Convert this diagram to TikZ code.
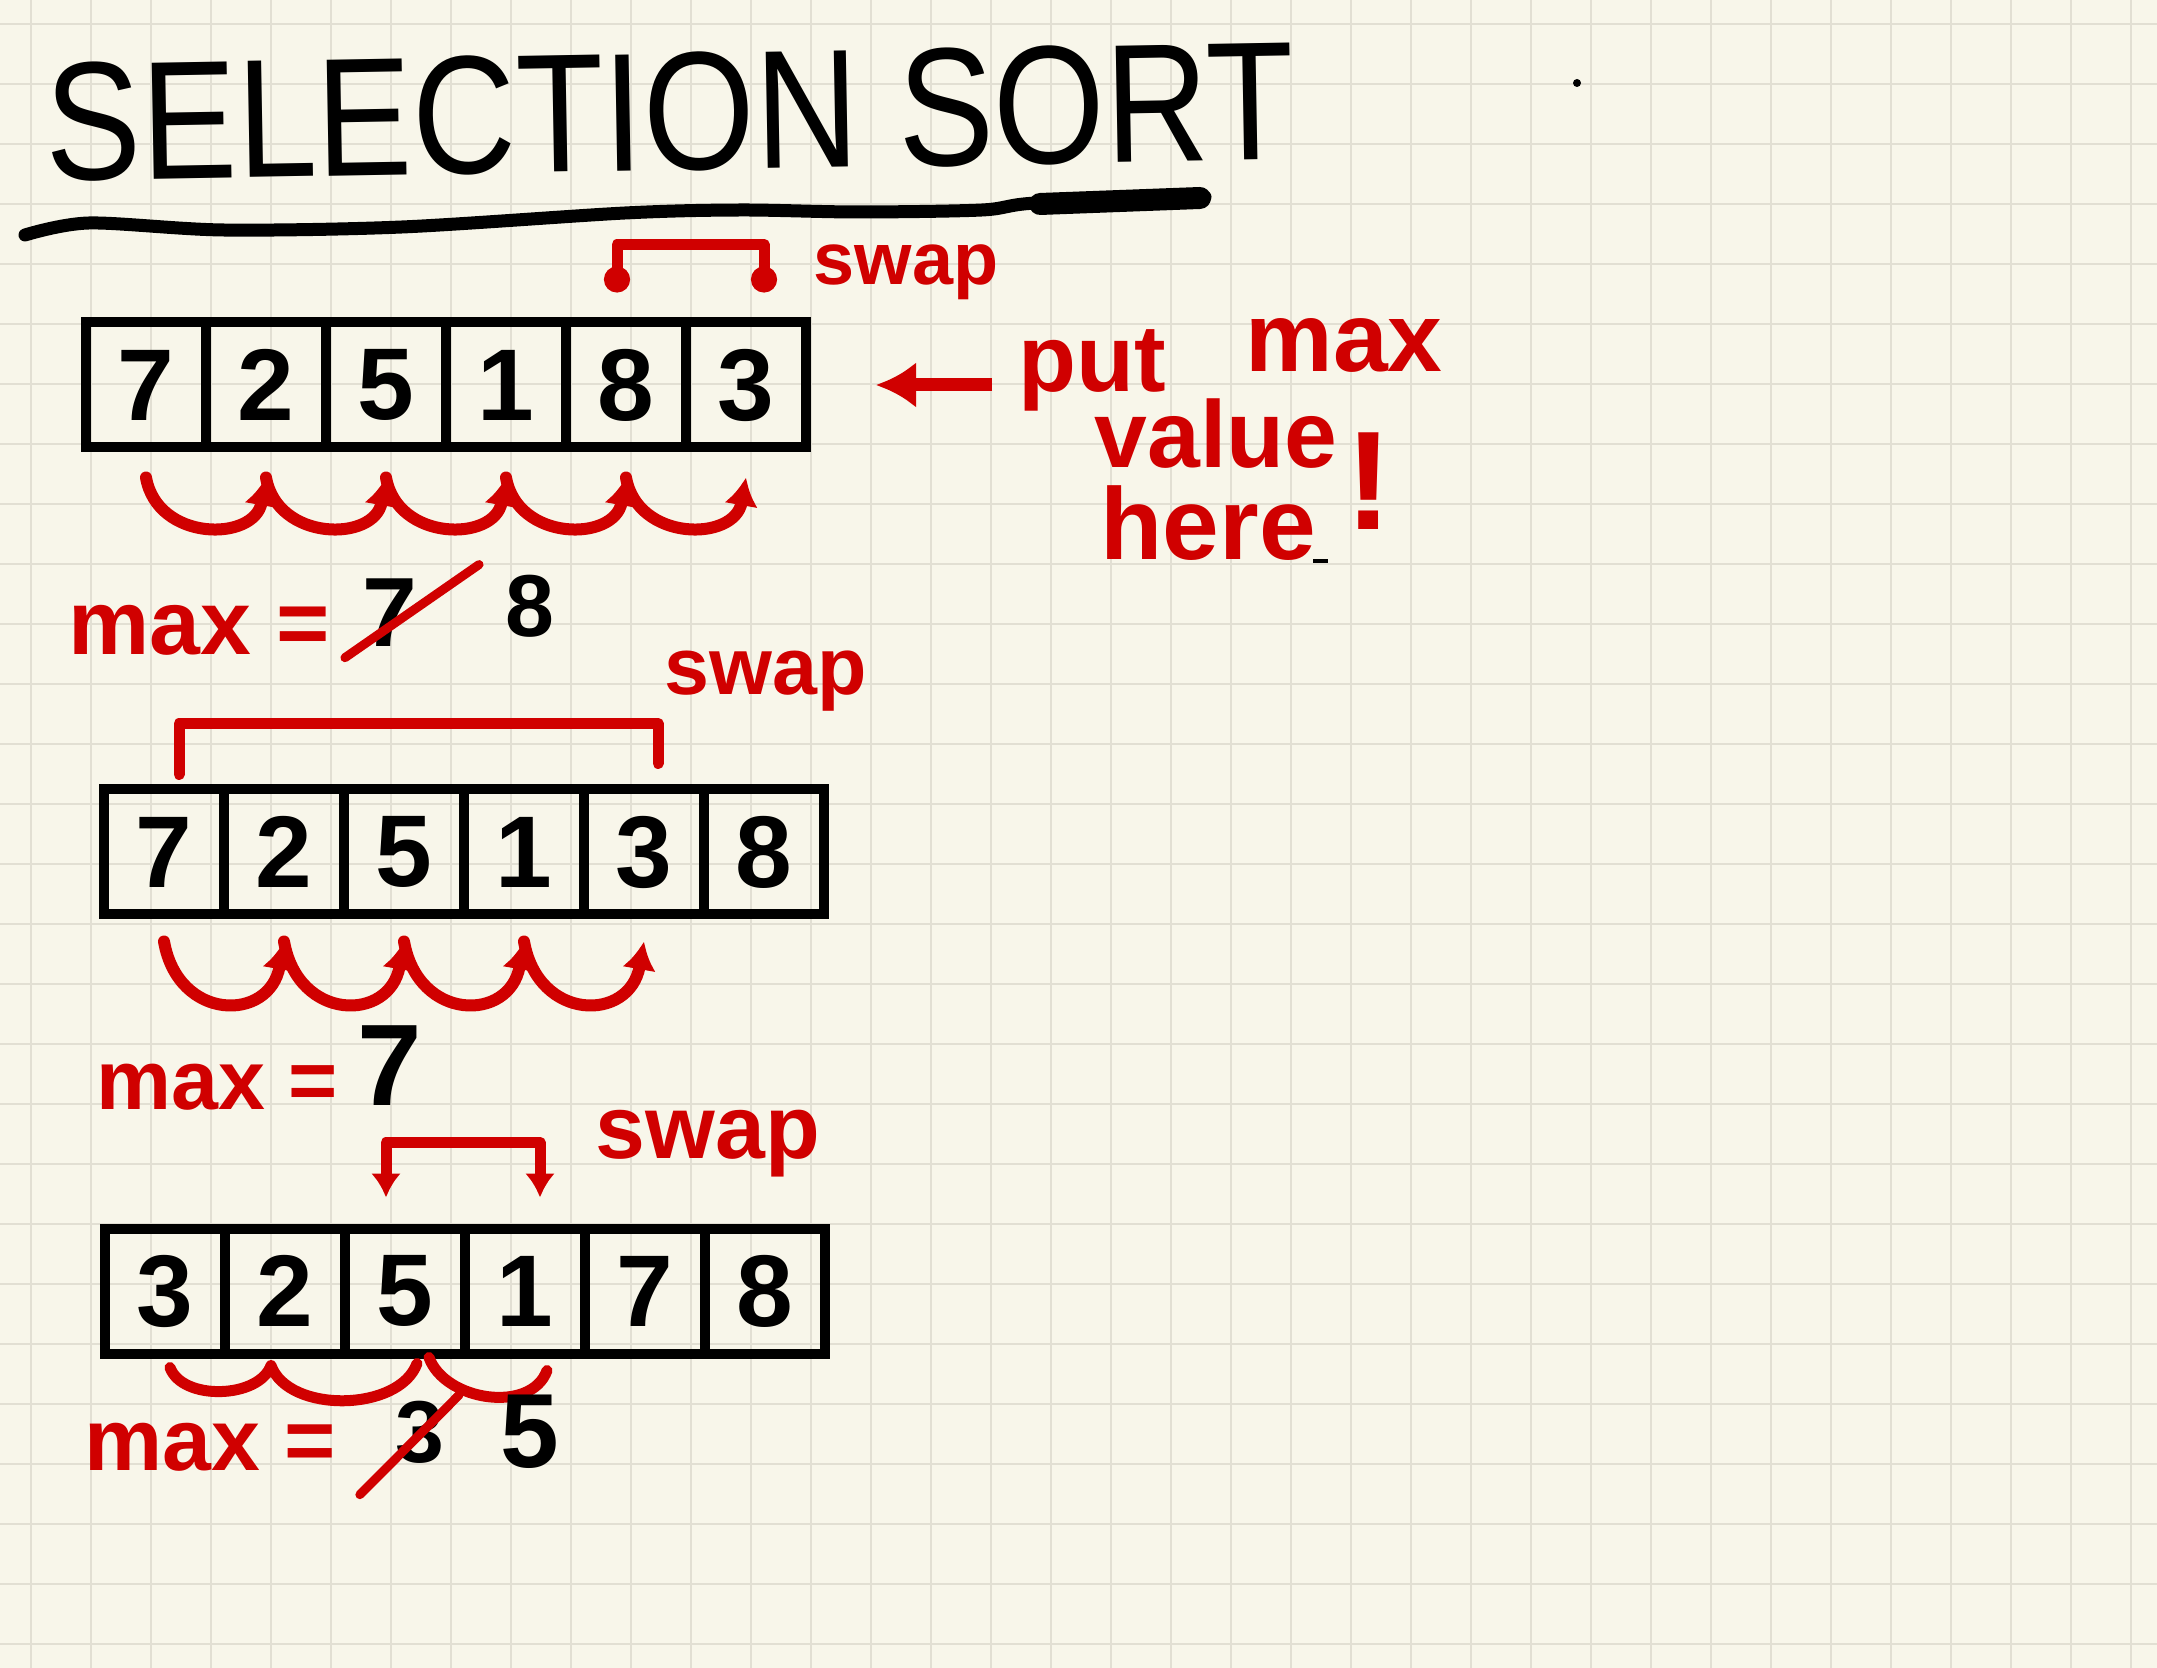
\documentclass[tikz,border=0pt]{standalone}
\usepackage{fontspec}
\setmainfont{Liberation Sans}
\usepackage{graphicx}
\usepackage{tikz}
\usetikzlibrary{arrows.meta,calc}
\definecolor{paper}{RGB}{248,246,234}
\definecolor{gridGray}{RGB}{226,223,211}
\definecolor{inkRed}{RGB}{208,0,0}

\tikzset{
  cell/.style={draw=black, line width=1mm, minimum width=12mm, minimum height=12.5mm,
    inner sep=0pt, outer sep=0pt, font=\fontsize{29}{30}\selectfont\bfseries},
  cmp/.style={draw=inkRed, line width=1.2mm, line cap=round, -{Latex[length=2.8mm,width=3.4mm]}},
  swapline/.style={draw=inkRed, line width=1.1mm, line cap=round, line join=round},
  pointer/.style={draw=inkRed, line width=1.3mm, -{Latex[length=4mm,width=4.6mm]}},
  strike/.style={draw=inkRed, line width=0.9mm, line cap=round},
  note/.style={text=inkRed, inner sep=0pt, anchor=base west},
  digit/.style={inner sep=0pt, anchor=base},
}

\begin{document}
\begin{tikzpicture}[x=0.1mm, y=0.1mm]
    % paper and grid
    \fill[paper] (0,0) rectangle (2157,-1668);
    \useasboundingbox (0,0) rectangle (2157,-1668);
    \foreach \gx in {31,91,...,2157}
        \draw[gridGray, line width=0.25mm] (\gx,0) -- (\gx,-1668);
    \foreach \gy in {24,84,...,1668}
        \draw[gridGray, line width=0.25mm] (0,-\gy) -- (2157,-\gy);

    % title
    \node[rotate=1, font=\fontsize{48}{50}\selectfont] (title) at (670,-112) {\scalebox{0.85}[1]{SELECTION SORT}};
    \draw[line width=1.3mm, line cap=round] plot[smooth] coordinates {(25,-235) (89,-223) (223,-230) (402,-227) (625,-213) (741,-210) (857,-212) (982,-210) (1036,-203) (1205,-197)};
    \draw[line width=2.2mm, line cap=round] (1040,-204) -- (1200,-198);

    % first pass
    \node[cell] (a1) at (146,-385) {7};
    \node[cell] (a2) at (266,-385) {2};
    \node[cell] (a3) at (386,-385) {5};
    \node[cell] (a4) at (506,-385) {1};
    \node[cell] (a5) at (626,-385) {8};
    \node[cell] (a6) at (746,-385) {3};
    \foreach \i/\j in {1/2,2/3,3/4,4/5,5/6}
        \draw[cmp] ($(a\i.south)+(0,-30)$) to[out=-80, in=-100, looseness=1.4] ($(a\j.south)+(0,-30)$);
    \draw[swapline, {Circle[length=2.6mm]}-{Circle[length=2.6mm]}] ($(a5.north)+(-9,30)$) -- ++(0,48) -| ($(a6.north)+(18,30)$);
    \node[note, font=\fontsize{21}{23}\selectfont\bfseries] (swap1) at (813,-285) {swap};

    \node[note, font=\fontsize{27}{29}\selectfont\bfseries] (put) at (1018,-392) {put};
    \node[note, font=\fontsize{28}{30}\selectfont\bfseries] (putmax) at (1245,-372) {max};
    \node[note, font=\fontsize{27}{29}\selectfont\bfseries] (value) at (1094,-468) {value};
    \node[note, font=\fontsize{29}{31}\selectfont\bfseries] (here) at (1100,-560) {here};
    \node[note, font=\fontsize{40}{42}\selectfont\bfseries] (bang) at (1345,-530) {!};
    \draw[pointer] ($(put.west |- a6.east)+(-26,0)$) -- ($(a6.east)+(70,0)$);

    \node[note, font=\fontsize{26}{28}\selectfont\bfseries] (max1) at (68,-655) {max =};
    \node[digit, font=\fontsize{28}{30}\selectfont\bfseries] (old1) at (390,-647) {7};
    \node[digit, font=\fontsize{25}{27}\selectfont\bfseries] (new1) at (530,-637) {8};
    \draw[strike] ($(old1.south west)+(-17,-10)$) -- ($(old1.north east)+(61,14)$);

    % second pass
    \node[cell] (b1) at (164,-852) {7};
    \node[cell] (b2) at (284,-852) {2};
    \node[cell] (b3) at (404,-852) {5};
    \node[cell] (b4) at (524,-852) {1};
    \node[cell] (b5) at (644,-852) {3};
    \node[cell] (b6) at (764,-852) {8};
    \foreach \i/\j in {1/2,2/3,3/4,4/5}
        \draw[cmp] ($(b\i.south)+(0,-27)$) to[out=-80, in=-100, looseness=1.75] ($(b\j.south)+(0,-27)$);
    \draw[swapline] ($(b1.north)+(15,15)$) -- ++(0,51) -| ($(b5.north)+(14,26)$);
    \node[note, font=\fontsize{23}{25}\selectfont\bfseries] (swap2) at (664,-695) {swap};

    \node[note, font=\fontsize{24}{26}\selectfont\bfseries] (max2) at (96,-1110) {max =};
    \node[digit, font=\fontsize{33}{35}\selectfont\bfseries] (val2) at (390,-1105) {7};

    % third pass
    \node[cell] (c1) at (165,-1291) {3};
    \node[cell] (c2) at (285,-1291) {2};
    \node[cell] (c3) at (405,-1291) {5};
    \node[cell] (c4) at (525,-1291) {1};
    \node[cell] (c5) at (645,-1291) {7};
    \node[cell] (c6) at (765,-1291) {8};
    \draw[swapline] ($(c1.south)+(5,-14)$) to[out=-70, in=-110, looseness=0.9] ($(c2.south)+(-14,-12)$)
        to[out=-70, in=-110, looseness=0.9] ($(c3.south)+(12,-10)$);
    \draw[swapline] ($(c3.south)+(24,-4)$) to[out=-70, in=-110] ($(c4.south)+(22,-17)$);
    \draw[swapline, {Latex[length=2.4mm,width=3mm]}-{Latex[length=2.4mm,width=3mm]}] ($(c3.north)+(-19,31)$) -- ++(0,55) -| ($(c4.north)+(15,31)$);
    \node[note, font=\fontsize{25.5}{27}\selectfont\bfseries] (swap3) at (595,-1158) {swap};

    \node[note, font=\fontsize{25}{27}\selectfont\bfseries] (max3) at (84,-1470) {max =};
    \node[digit, font=\fontsize{25}{27}\selectfont\bfseries] (old3) at (420,-1462) {3};
    \node[digit, font=\fontsize{30}{32}\selectfont\bfseries] (new3) at (530,-1467) {5};
    \draw[strike] ($(old3.south west)+(-35,-31)$) -- ($(old3.north east)+(14,5)$);

    % stray marks
    \fill (1577,-83) circle (4);
    \draw[line width=0.4mm] (1313,-561) -- (1328,-561);
\end{tikzpicture}
\end{document}
